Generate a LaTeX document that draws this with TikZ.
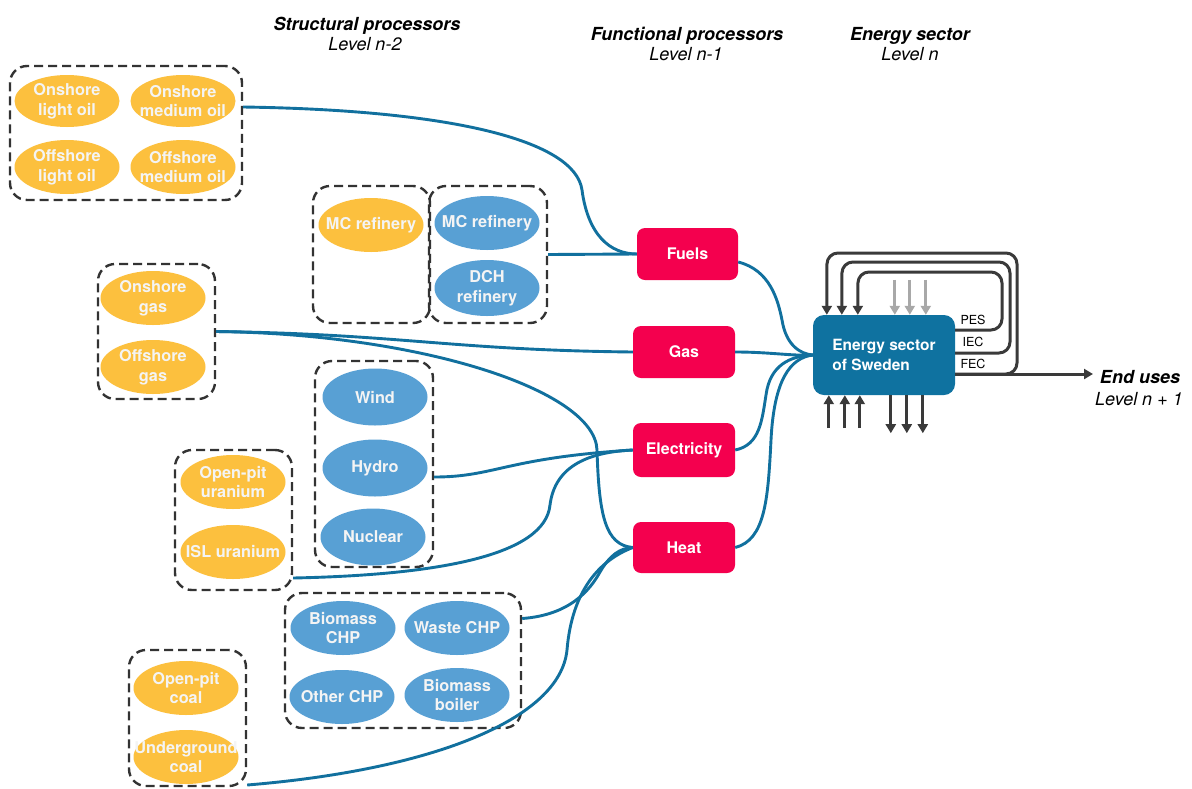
\documentclass[tikz,border=0pt]{standalone}
\usepackage{fontspec}
\setmainfont{TeX Gyre Heros}
\usetikzlibrary{arrows.meta,calc,shapes.geometric}

\definecolor{oilorange}{HTML}{FCC03E}
\definecolor{procblue}{HTML}{58A0D4}
\definecolor{funcred}{HTML}{F4004E}
\definecolor{sectorblue}{HTML}{0F72A0}
\definecolor{flowblue}{HTML}{11709E}
\definecolor{loopgray}{HTML}{3A3A3A}
\definecolor{feedgray}{HTML}{A8A8A8}
\definecolor{dashgray}{HTML}{333333}
\definecolor{proctext}{HTML}{F4F4F4}

\tikzset{
  % negative horizontal inner sep keeps every ellipse at its fixed size
  proc/.style={ellipse, inner xsep=-16pt, inner ysep=0pt, minimum width=105pt,
    minimum height=54pt, text=proctext, align=center,
    font=\fontsize{16.3}{19.5}\selectfont\bfseries},
  extraction/.style={proc, fill=oilorange},
  conversion/.style={proc, fill=procblue},
  groupbox/.style={draw=dashgray, line width=2.4pt, dash pattern=on 9pt off 5pt,
    rounded corners=17pt, inner sep=0pt},
  funcbox/.style={fill=funcred, rounded corners=8pt, minimum width=102pt,
    minimum height=52pt, inner sep=0pt, text=white,
    font=\fontsize{16}{19}\selectfont\bfseries},
  flow/.style={draw=flowblue, line width=2.9pt},
  loopline/.style={draw=loopgray, line width=3pt, rounded corners=11pt,
    -{Triangle[length=9pt,width=10pt]}},
  stub/.style={draw=loopgray, line width=3pt, -{Triangle[length=9pt,width=10pt]}},
  feed/.style={draw=feedgray, line width=3pt, -{Triangle[length=9pt,width=10pt]}},
  headtitle/.style={anchor=base, font=\fontsize{18}{20}\selectfont\bfseries\itshape},
  headlevel/.style={anchor=base, font=\fontsize{18}{20}\selectfont\itshape},
  flowlabel/.style={font=\fontsize{12.5}{14}\selectfont},
}

\begin{document}
\begin{tikzpicture}[x=1pt, y=-1pt]
\fill[white] (0,0) rectangle (1192,788);
\useasboundingbox (0,0) rectangle (1192,788);

% column headings
\node[headtitle] (h1) at (367,30) {Structural processors};
\node[headlevel] (h1l) at (365,50) {Level n-2};
\node[headtitle] (h2) at (687,40) {Functional processors};
\node[headlevel] (h2l) at (686,60) {Level n-1};
\node[headtitle] (h3) at (910,40) {Energy sector};
\node[headlevel] (h3l) at (910,60) {Level n};

% groups of structural processors
\node[groupbox, minimum width=232pt, minimum height=134pt] (oilgrp) at (126,133) {};
\node[groupbox, minimum width=117pt, minimum height=137pt] (mcgrp) at (371.5,254.5) {};
\node[groupbox, minimum width=118pt, minimum height=137pt] (refgrp) at (488,254.5) {};
\node[groupbox, minimum width=117pt, minimum height=135pt] (gasgrp) at (156.5,331.5) {};
\node[groupbox, minimum width=117pt, minimum height=140pt] (urgrp) at (233.5,520) {};
\node[groupbox, minimum width=118pt, minimum height=206pt] (elgrp) at (374,464) {};
\node[groupbox, minimum width=236pt, minimum height=135pt] (chpgrp) at (403,660.5) {};
\node[groupbox, minimum width=117pt, minimum height=136pt] (coalgrp) at (187.5,718) {};

% structural processors
\node[extraction, minimum height=52pt] (onlight) at (67,101) {Onshore\\light oil};
\node[extraction, minimum height=52pt] (onmed) at (183,101) {Onshore\\medium oil};
\node[extraction, minimum height=54pt] (offlight) at (67,167) {Offshore\\light oil};
\node[extraction, minimum height=54pt] (offmed) at (183,167) {Offshore\\medium oil};
\node[extraction] (mcorange) at (371,225) {MC refinery};
\node[conversion] (mcblue) at (487,223) {MC refinery};
\node[conversion, minimum height=56pt] (dch) at (487,288) {DCH\\refinery};
\node[extraction] (ongas) at (153,298) {Onshore\\gas};
\node[extraction] (offgas) at (153,367) {Offshore\\gas};
\node[extraction] (opu) at (233,482) {Open-pit\\uranium};
\node[extraction] (islu) at (233,552) {ISL uranium};
\node[conversion, minimum height=57pt] (wind) at (375,397) {Wind};
\node[conversion, minimum height=57pt] (hydro) at (375,468) {Hydro};
\node[conversion, minimum height=57pt] (nuclear) at (373,537) {Nuclear};
\node[conversion] (biochp) at (343,628) {Biomass\\CHP};
\node[conversion] (wastechp) at (457,628) {Waste CHP};
\node[conversion] (otherchp) at (342,697) {Other CHP};
\node[conversion] (bioboil) at (457,695) {Biomass\\boiler};
\node[extraction] (opcoal) at (186,688) {Open-pit\\coal};
\node[extraction] (ugcoal) at (186,757) {Underground\\coal};

% functional processors
\node[funcbox, minimum width=101pt] (fuels) at (687.5,254) {Fuels};
\node[funcbox] (gasbox) at (684,352) {Gas};
\node[funcbox, minimum height=54pt] (elec) at (684,450) {Electricity};
\node[funcbox, minimum height=51pt] (heat) at (684,547.5) {Heat};

% energy sector
\node[fill=sectorblue, rounded corners=11pt, minimum width=142pt, minimum height=80pt,
  inner sep=0pt, text=white, align=left, font=\fontsize{15.5}{20}\selectfont\bfseries]
  (energy) at (884,355) {Energy sector\\of Sweden};

% flows into functional processors
\draw[flow] ($(oilgrp.east)+(0,-26)$) .. controls (450,110) and (575,140) .. (582,190)
  .. controls (588,235) and (610,254) .. (fuels.west);
\draw[flow] (refgrp.east) -- (fuels.west);
\draw[flow] (gasgrp.east) .. controls (400,334) and (450,350) .. (gasbox.west);
\draw[flow] (gasgrp.east) .. controls (420,334) and (595,390) .. (597,450)
  .. controls (599,515) and (605,545) .. (heat.west);
\draw[flow] ($(elgrp.east)+(0,13)$) .. controls (495,477) and (505,458) .. (elec.west);
\draw[flow] ($(urgrp.east)+(0,58)$) .. controls (440,575) and (545,555) .. (550,505)
  .. controls (555,465) and (590,452) .. (elec.west);
\draw[flow] ($(chpgrp.east)+(0,-42)$) .. controls (570,615) and (590,590) .. (600,572)
  .. controls (610,555) and (620,548) .. (heat.west);
\draw[flow] ($(coalgrp.east)+(0,67)$) .. controls (430,770) and (560,720) .. (567,650)
  .. controls (572,590) and (600,560) .. (heat.west);

% flows into the energy sector
\draw[flow] ($(fuels.east)+(0,8)$) .. controls (770,270) and (778,300) .. (782,320)
  .. controls (786,345) and (800,354) .. (energy.west);
\draw[flow] (gasbox.east) .. controls (770,352) and (790,356) .. (energy.west);
\draw[flow] (elec.east) .. controls (760,445) and (762,420) .. (766,395)
  .. controls (770,365) and (790,356) .. (energy.west);
\draw[flow] (heat.east) .. controls (765,540) and (768,500) .. (771,440)
  .. controls (774,380) and (790,358) .. (energy.west);

% internal loops PES, IEC, FEC
\draw[loopline] ($(energy.east)+(0,-25)$) -- (1002,330) -- (1002,272) -- (858,272)
  -- ($(energy.north west)+(45,0)$);
\draw[loopline] ($(energy.east)+(0,-2)$) -- (1010,353) -- (1010,262) -- (842,262)
  -- ($(energy.north west)+(29,0)$);
\draw[loopline] ($(energy.east)+(0,19)$) -- (1017,374) -- (1017,253) -- (827,253)
  -- ($(energy.north west)+(14,0)$);
\node[flowlabel] (pes) at (973,320) {PES};
\node[flowlabel] (iec) at (973,342) {IEC};
\node[flowlabel] (fec) at (973,364) {FEC};

% final deliveries
\coordinate (endtip) at (1093,374);
\draw[stub] ($(energy.east)+(0,19)$) -- (endtip);
\node[headtitle] (enduses) at (1140,383) {End uses};
\node[headlevel] (endlevel) at (1139,405) {Level n + 1};

% exchanges with the rest of the system
\foreach \dx in {11,26,42}{
  \draw[feed] ($(energy.north west)+(\dx,0)+(71,-35)$) -- ($(energy.north west)+(\dx,0)+(71,0)$);
}
\foreach \dx in {16,32,47}{
  \draw[stub] ($(energy.south west)+(\dx,33)$) -- ($(energy.south west)+(\dx,0)$);
}
\foreach \dx in {78,94,110}{
  \draw[stub] ($(energy.south west)+(\dx,0)$) -- ($(energy.south west)+(\dx,38)$);
}
\end{tikzpicture}
\end{document}
